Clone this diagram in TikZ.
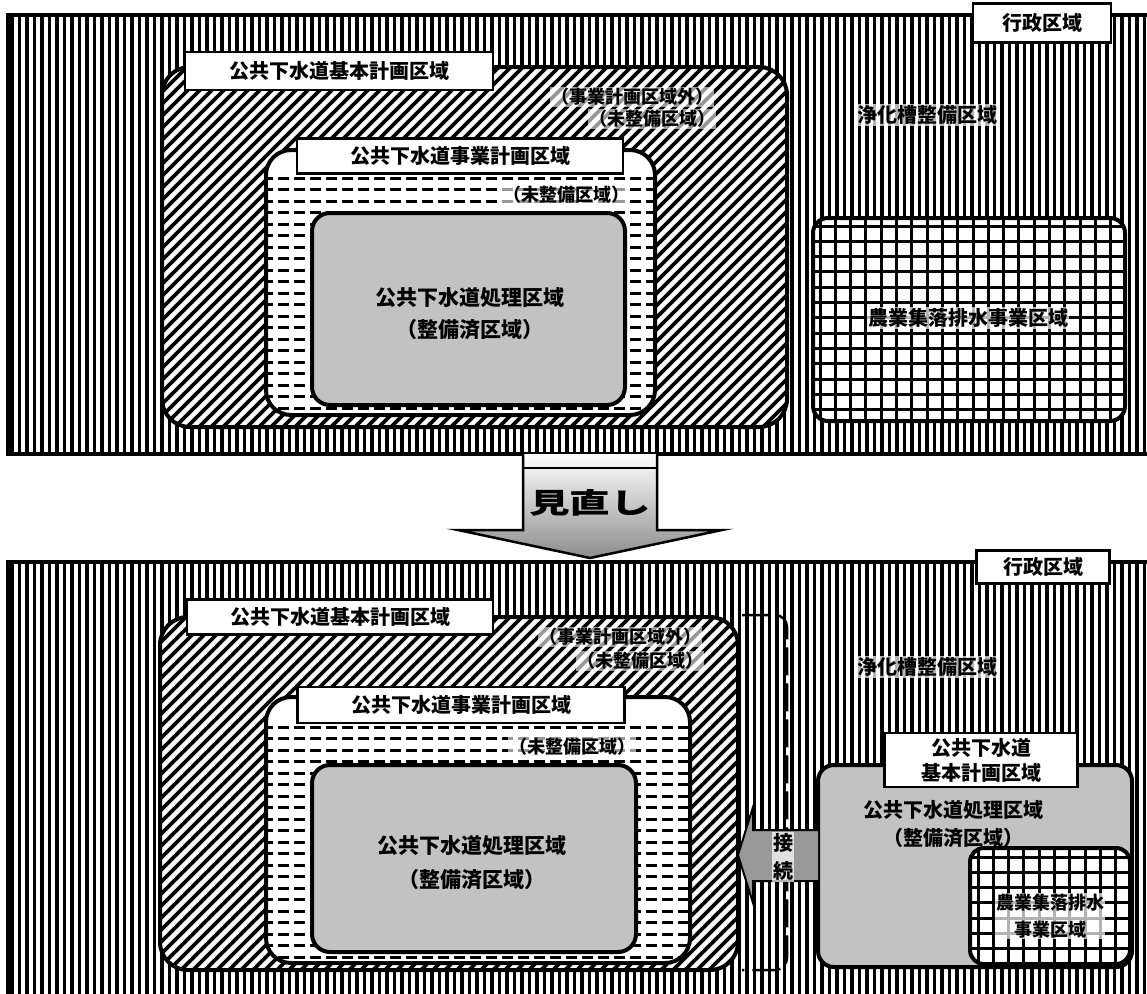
\documentclass[tikz,border=0pt]{standalone}
\usepackage{fontspec}
\newfontfamily\jp{Noto Sans CJK JP}
\begin{document}
\begin{tikzpicture}[x=1pt,y=-1pt,
  frame/.style={line width=4pt},
  lbl/.style={draw, line width=2.5pt, fill=white, inner sep=0pt, font=\jp\bfseries\fontsize{20}{25}\selectfont, align=center},
  txt/.style={font=\jp\bfseries\fontsize{20}{25}\selectfont, align=center, inner sep=1pt},
  ptxt/.style={font=\jp\bfseries\fontsize{18}{22}\selectfont, inner sep=1pt, fill=white, fill opacity=0.6, text opacity=1},
  halo/.style={fill=white, fill opacity=0.7, text opacity=1},
  stip/.style={fill=black!24},
  hatch/.style={line width=3.6pt},
  dashrow/.style={line width=3pt, dash pattern=on 11pt off 5pt},
]
\useasboundingbox (0,0) rectangle (1147,993);

%================ TOP PANEL =================
\begin{scope}
  \clip (8,14) rectangle (1147,454);
  \foreach \i in {0,...,152} \fill ({10+7.5*\i},10) rectangle ++(3.5,450);
\end{scope}
\draw[frame] (1147,15) -- (8,15) -- (8,454) -- (1147,454);

% basic plan area (top)
\fill[white, rounded corners=28pt] (162,67) rectangle (787,427);
\begin{scope}
  \clip[rounded corners=28pt] (162,67) rectangle (787,427);
  \foreach \i in {0,...,85} \draw[hatch] ({-200+12*\i},430) -- ++(366,-366);
\end{scope}
\draw[frame, rounded corners=28pt] (162,67) rectangle (787,427);

% project plan area (top)
\fill[white, rounded corners=25pt] (266,150) rectangle (655,415);
\begin{scope}
  \clip[rounded corners=25pt] (266,150) rectangle (655,415);
  \foreach \j in {0,...,22} \draw[dashrow] (262,{178+11.5*\j}) -- (660,{178+11.5*\j});
\end{scope}
\draw[frame, rounded corners=25pt] (266,150) rectangle (655,415);

% treatment area (top)
\draw[frame, stip, rounded corners=18pt] (312,213) rectangle (625,405);
\node[txt, font=\jp\bfseries\fontsize{21}{32}\selectfont] (sr1) at (470,314) {公共下水道処理区域\\（整備済区域）};

% rural sewage area (top)
\fill[white, rounded corners=15pt] (813,218) rectangle (1125,421);
\begin{scope}
  \clip[rounded corners=15pt] (813,218) rectangle (1125,421);
  \foreach \i in {0,...,21} \draw[line width=3pt] ({820+15.3*\i},210) -- ++(0,220);
  \foreach \j in {0,...,13} \draw[line width=3pt] (805,{226+15.3*\j}) -- ++(330,0);
\end{scope}
\draw[frame, rounded corners=15pt] (813,218) rectangle (1125,421);
\node[txt, halo] (nb1) at (968,318) {農業集落排水事業区域};

% labels (top)
\node[lbl, minimum width=138, minimum height=39] (gy1) at (1042,23) {行政区域};
\node[lbl, minimum width=308, minimum height=38] (kb1) at (339,71) {公共下水道基本計画区域};
\node[lbl, minimum width=326, minimum height=35] (jg1) at (460,156) {公共下水道事業計画区域};
\node[ptxt] (ot1) at (632,97) {（事業計画区域外）};
\node[ptxt] (mi1) at (652,119) {（未整備区域）};
\node[ptxt] (mi2) at (566,195) {（未整備区域）};
\node[txt, halo] (jk1) at (927,115) {浄化槽整備区域};

%================ ARROW =================
\draw[line width=2.5pt, top color=white, bottom color=black!45, shading angle=0]
  (523,454) -- (523,530) -- (458,530) -- (590,558) -- (722,530) -- (657,530) -- (657,454);
\draw[line width=2.5pt] (523,468) -- (657,468);
\node[font=\jp\bfseries\fontsize{28}{30}\selectfont, xscale=1.45, transform shape, inner sep=0pt] (mn) at (590,503) {見直し};

%================ BOTTOM PANEL =================
\begin{scope}
  \clip (8,562) rectangle (1147,995);
  \foreach \i in {0,...,152} \fill ({10+7.5*\i},558) rectangle ++(3.5,440);
\end{scope}
\draw[frame] (1147,562) -- (8,562) -- (8,995);

% basic plan area (bottom)
\fill[white, rounded corners=28pt] (160,617) rectangle (738,970);
\begin{scope}
  \clip[rounded corners=28pt] (160,617) rectangle (738,970);
  \foreach \i in {0,...,85} \draw[hatch] ({-220+12*\i},975) -- ++(362,-362);
\end{scope}
\draw[frame, rounded corners=28pt] (160,617) rectangle (738,970);

% project plan area (bottom)
\fill[white, rounded corners=25pt] (266,697) rectangle (690,963);
\begin{scope}
  \clip[rounded corners=25pt] (266,697) rectangle (690,963);
  \foreach \j in {0,...,22} \draw[dashrow] (262,{727+11.5*\j}) -- (695,{727+11.5*\j});
\end{scope}
\draw[frame, rounded corners=25pt] (266,697) rectangle (690,963);

% treatment area (bottom)
\draw[frame, stip, rounded corners=18pt] (312,765) rectangle (636,952);
\node[txt, font=\jp\bfseries\fontsize{21}{34}\selectfont] (sr2) at (472,863) {公共下水道処理区域\\（整備済区域）};

% dashed bracket (expansion)
\draw[line width=2.5pt, dash pattern=on 28pt off 8pt, rounded corners=12pt]
  (742,615) -- (787,615) -- (787,970) -- (742,970);

% right basic plan area
\draw[frame, stip, rounded corners=16pt] (818,765) rectangle (1132,967);
\node[txt, font=\jp\bfseries\fontsize{20}{28}\selectfont] (sr3) at (953,824) {公共下水道処理区域\\（整備済区域）};
\fill[white, rounded corners=14pt] (970,848) rectangle (1130,964);
\begin{scope}
  \clip[rounded corners=14pt] (970,848) rectangle (1130,964);
  \foreach \i in {0,...,11} \draw[line width=3pt] ({978+15.3*\i},840) -- ++(0,130);
  \foreach \j in {0,...,7} \draw[line width=3pt] (965,{857+15.3*\j}) -- ++(170,0);
\end{scope}
\draw[frame, rounded corners=14pt] (970,848) rectangle (1130,964);
\node[txt, halo, font=\jp\bfseries\fontsize{18}{27}\selectfont] (nb2) at (1050,916) {農業集落排水\\事業区域};
\node[lbl, minimum width=193, minimum height=54] (kb3) at (981,760) {公共下水道\\基本計画区域};

% connection arrow
\draw[line width=2pt, fill=black!40]
  (818,830) -- (753,830) -- (753,807) -- (738,855) -- (753,903) -- (753,881) -- (818,881);
\node[txt, font=\jp\bfseries\fontsize{20}{28}\selectfont, halo] (sz) at (783,857) {接\\続};

% labels (bottom)
\node[lbl, minimum width=133, minimum height=33] (gy2) at (1043,567) {行政区域};
\node[lbl, minimum width=306, minimum height=35] (kb2) at (340,617) {公共下水道基本計画区域};
\node[lbl, minimum width=327, minimum height=36] (jg2) at (461,705) {公共下水道事業計画区域};
\node[ptxt] (ot2) at (620,637) {（事業計画区域外）};
\node[ptxt] (mi3) at (640,661) {（未整備区域）};
\node[ptxt] (mi4) at (572,747) {（未整備区域）};
\node[txt, halo] (jk2) at (927,667) {浄化槽整備区域};
\end{tikzpicture}
\end{document}
